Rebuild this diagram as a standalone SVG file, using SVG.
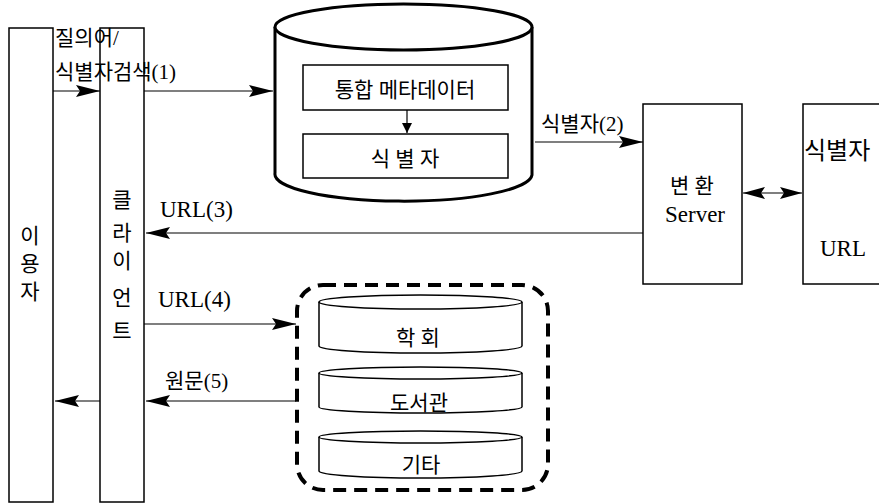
<svg xmlns="http://www.w3.org/2000/svg" width="879" height="504" viewBox="0 0 879 504">
<style>
.box{fill:#fff;stroke:#000;stroke-width:1.5}
.thick{fill:#fff;stroke:#000;stroke-width:3}
.ln{stroke:#000;stroke-width:1.2;fill:none}
.ko{font-family:'Liberation Serif','Times New Roman','DejaVu Serif','Noto Sans CJK KR',serif;font-size:21px;fill:#000}
.la{font-family:'Liberation Serif','Times New Roman','DejaVu Serif',serif;font-size:23px;fill:#000}
.mid{text-anchor:middle}
</style>
<defs>
<marker id="ah" markerUnits="userSpaceOnUse" markerWidth="24" markerHeight="12" refX="24" refY="6" orient="auto">
<path d="M0,0 L24,6 L0,12 L4,6 z" fill="#000"/>
</marker>
<marker id="ahs" markerUnits="userSpaceOnUse" markerWidth="22" markerHeight="12" refX="22" refY="6" orient="auto-start-reverse">
<path d="M0,0 L22,6 L0,12 L4,6 z" fill="#000"/>
</marker>
<marker id="ahsmall" markerUnits="userSpaceOnUse" markerWidth="10" markerHeight="10" refX="10" refY="5" orient="auto">
<path d="M0,0 L10,5 L0,10 z" fill="#000"/>
</marker>
</defs>
<rect width="879" height="504" fill="#fff"/>

<g id="user">
<rect class="box" x="9" y="28" width="44" height="474"/>
<text class="ko mid" x="30" y="243">이</text>
<text class="ko mid" x="30" y="271">용</text>
<text class="ko mid" x="30" y="299">자</text>
</g>

<g id="client">
<rect class="box" x="100" y="28" width="44" height="474"/>
<text class="ko mid" x="122" y="207">클</text>
<text class="ko mid" x="122" y="240">라</text>
<text class="ko mid" x="122" y="268">이</text>
<text class="ko mid" x="122" y="305">언</text>
<text class="ko mid" x="122" y="338">트</text>
</g>

<g id="metadb">
<path class="thick" d="M275,27 L275,173 A128,27 0 0 0 532,175 L532,27"/>
<ellipse class="thick" cx="403.5" cy="27" rx="128.5" ry="23"/>
<rect class="box" x="303" y="65" width="205" height="45"/>
<text class="ko mid" x="405" y="97">통합 메타데이터</text>
<rect class="box" x="303" y="134" width="205" height="44"/>
<text class="ko mid" x="405" y="166" xml:space="preserve">식 별 자</text>
</g>

<g id="server">
<rect class="box" x="643" y="104" width="99" height="180"/>
<text class="ko mid" x="692" y="193" xml:space="preserve">변 환</text>
<text class="la mid" x="695" y="222">Server</text>
</g>

<g id="mapping">
<rect class="box" x="803" y="104" width="100" height="180"/>
<text class="ko" x="804" y="159" style="font-size:24px">식별자</text>
<text class="la" x="820" y="256">URL</text>
</g>

<g id="sources">
<rect x="297" y="285" width="251" height="205" rx="26" fill="none" stroke="#000" stroke-width="4" stroke-dasharray="13 8"/>
<g id="society">
<path class="box" d="M319,302 L319,346 A101.5,7 0 0 0 522,346 L522,302"/>
<ellipse class="box" cx="420.5" cy="302" rx="101.5" ry="7"/>
<text class="ko mid" x="418" y="345" xml:space="preserve">학 회</text>
</g>
<g id="library">
<path class="box" d="M319,373 L319,407 A101.5,6 0 0 0 522,407 L522,373"/>
<ellipse class="box" cx="420.5" cy="373" rx="101.5" ry="6"/>
<text class="ko mid" x="419" y="410">도서관</text>
</g>
<g id="etc">
<path class="box" d="M319,437 L319,471 A101.5,7 0 0 0 522,471 L522,437"/>
<ellipse class="box" cx="420.5" cy="437" rx="101.5" ry="6"/>
<text class="ko mid" x="421" y="472">기타</text>
</g>
</g>

<g id="connectors">
<line class="ln" x1="53" y1="91" x2="100" y2="91" marker-end="url(#ah)"/>
<line class="ln" x1="144" y1="91" x2="273" y2="91" marker-end="url(#ah)"/>
<line class="ln" x1="407" y1="110" x2="407" y2="133" marker-end="url(#ahsmall)"/>
<line class="ln" x1="535" y1="142" x2="643" y2="142" marker-end="url(#ah)"/>
<line class="ln" x1="743" y1="193" x2="802" y2="193" marker-start="url(#ahs)" marker-end="url(#ahs)"/>
<line class="ln" x1="643" y1="233" x2="146" y2="233" marker-end="url(#ah)"/>
<line class="ln" x1="144" y1="324" x2="296" y2="324" marker-end="url(#ah)"/>
<line class="ln" x1="296" y1="401" x2="146" y2="401" marker-end="url(#ah)"/>
<line class="ln" x1="100" y1="401" x2="55" y2="401" marker-end="url(#ah)"/>
<text class="ko" x="55" y="45">질의어/</text>
<text class="ko" x="55" y="79">식별자검색(1)</text>
<text class="ko" x="541" y="131">식별자(2)</text>
<text class="la" x="160" y="217">URL(3)</text>
<text class="la" x="158" y="307">URL(4)</text>
<text class="ko" x="165" y="388">원문(5)</text>
</g>
</svg>
